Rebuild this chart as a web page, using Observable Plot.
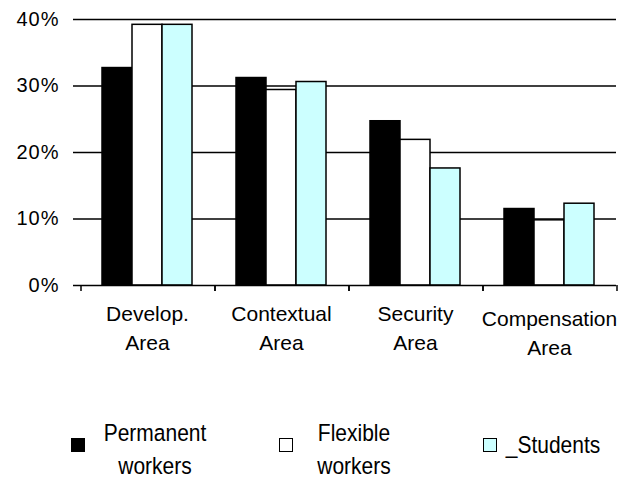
<!DOCTYPE html>
<html><head><meta charset="utf-8">
<script src="https://cdn.jsdelivr.net/npm/d3@7"></script>
<script src="https://cdn.jsdelivr.net/npm/@observablehq/plot@0.6"></script>
<style>
body{margin:0;background:#fff;font-family:"Liberation Sans",Arial,sans-serif}
#wrap{position:relative;width:625px;height:480px;overflow:hidden}
#chart svg{display:block}
.item{position:absolute;font-size:21px;color:#000;line-height:29px;text-align:center;transform:scaleY(1.12);transform-origin:center}
.sw{position:absolute;width:12px;height:12px;border:1.5px solid #000}
g[aria-label="y-axis tick label"] text{letter-spacing:1px}
</style></head><body>
<div id="wrap"><div id="chart"></div><div id="legend"></div></div>
<script>
const categories = ["Develop.\nArea", "Contextual\nArea", "Security\nArea", "Compensation\nArea"];
const series = ["Permanent workers", "Flexible workers", "Students"];
const legendLabels = ["Permanent\nworkers", "Flexible\nworkers", "_Students"];
const permanent = [32.7, 31.2, 24.7, 11.5];
const flexible = [39.2, 29.4, 21.9, 9.8];
const students = [39.2, 30.6, 17.6, 12.3];
const colors = ["#000000", "#ffffff", "#ccffff"];
const yTicks = [0, 10, 20, 30, 40];

const values = [permanent, flexible, students];
const data = categories.flatMap((c, i) => series.map((s, j) => ({category: c, series: s, value: values[j][i]})));

// drawn once per facet (in facet-local coordinates): a tick below the baseline at both band edges
const edgeTicks = (index, scales) => {
  const g = d3.create("svg:g").attr("stroke", "black").attr("stroke-width", 1.5);
  const fx = scales.fx, y = scales.y;
  const y0 = y(0);
  const left = fx(categories[0]);
  for (const x of [left, left + fx.bandwidth()])
    g.append("line").attr("x1", x).attr("x2", x).attr("y1", y0).attr("y2", y0 + 6);
  return g.node();
};

const labelStyle = {anchor: "bottom", tickSize: 0, tickPadding: 14, fontSize: 21, lineHeight: 1.42, label: null};

const chart = Plot.plot({
  width: 625, height: 380,
  marginLeft: 79, marginRight: 9, marginTop: 19, marginBottom: 95,
  style: {fontFamily: "'Liberation Sans', Arial, sans-serif", color: "black", background: "white"},
  fx: {domain: categories, padding: 0, label: null, axis: null},
  x: {domain: series, paddingInner: 0, paddingOuter: 0.733, axis: null},
  y: {domain: [0, 40], label: null},
  color: {domain: series, range: colors},
  marks: [
    Plot.ruleY(yTicks.slice(1), {stroke: "black", strokeWidth: 1.5}),
    Plot.barY(data, {fx: "category", x: "series", y: "value", fill: "series", stroke: "black", strokeWidth: 1.5}),
    Plot.ruleY([0], {stroke: "black", strokeWidth: 1.5}),
    Plot.axisY({ticks: yTicks, tickFormat: d => d + "%", tickSize: 7, tickPadding: 14, fontSize: 20, label: null, strokeWidth: 1.5, line: true}),
    Plot.axisFx({...labelStyle, ticks: categories.slice(0, 3)}),
    Plot.axisFx({...labelStyle, ticks: categories.slice(3), dy: 5}),
    edgeTicks
  ]
});
document.getElementById("chart").append(chart);

const legend = document.getElementById("legend");
const swX = [71, 279, 483];
const txX = [155, 354, 553];
legendLabels.forEach((lab, i) => {
  const sw = document.createElement("div");
  sw.className = "sw";
  sw.style.left = swX[i] + "px"; sw.style.top = "438px"; sw.style.background = colors[i];
  legend.append(sw);
  const t = document.createElement("div");
  t.className = "item";
  t.style.whiteSpace = "pre";
  t.textContent = lab;
  const lines = lab.split("\n").length;
  t.style.left = (txX[i] - 60) + "px"; t.style.width = "120px";
  t.style.top = (lines === 2 ? 420 : 430) + "px";
  legend.append(t);
});
</script>
</body></html>
